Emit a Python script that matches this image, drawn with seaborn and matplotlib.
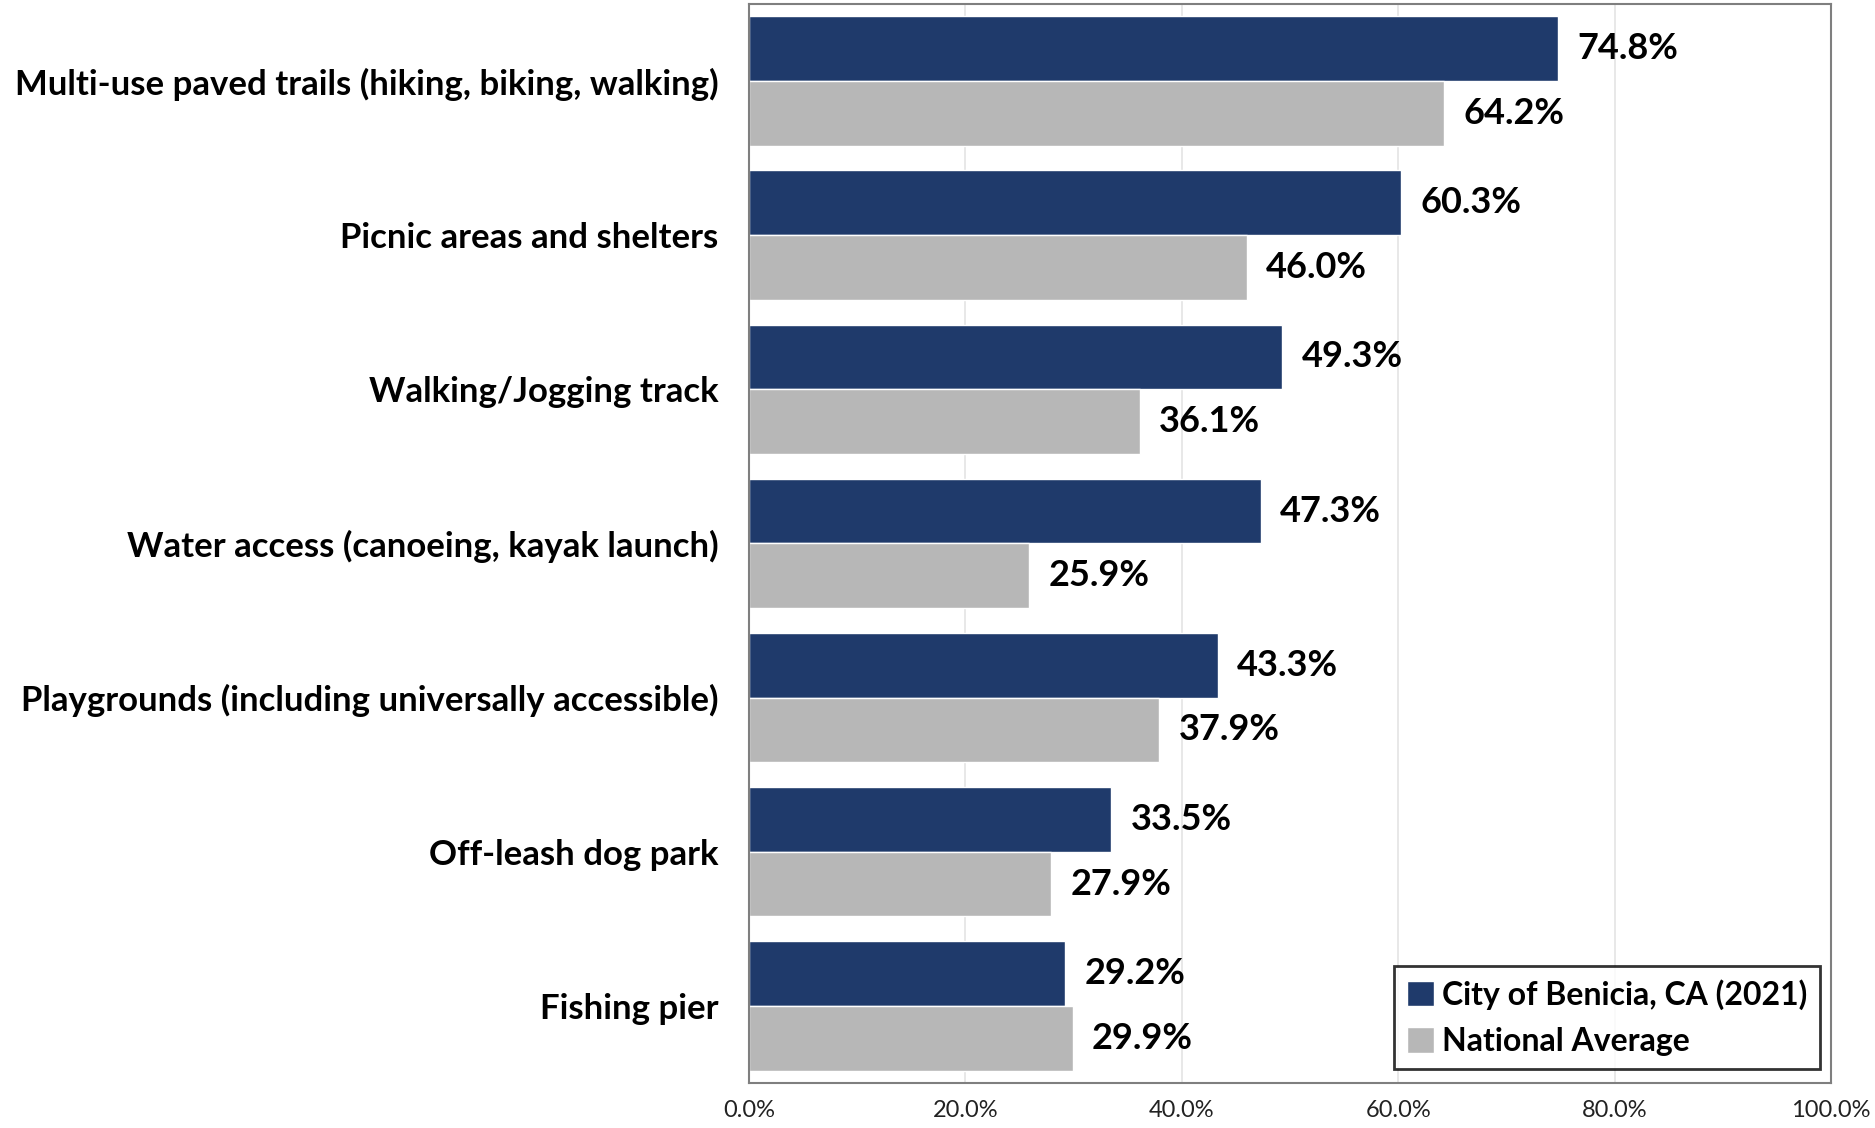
import pandas as pd
import numpy as np
import matplotlib.pyplot as plt
import seaborn as sns

# Datos
categorias = [
    "Multi-use paved trails (hiking, biking, walking)",
    "Picnic areas and shelters",
    "Walking/Jogging track",
    "Water access (canoeing, kayak launch)",
    "Playgrounds (including universally accessible)",
    "Off-leash dog park",
    "Fishing pier",
]
benicia = [74.8, 60.3, 49.3, 47.3, 43.3, 33.5, 29.2]
nacional = [64.2, 46.0, 36.1, 25.9, 37.9, 27.9, 29.9]
series = ["City of Benicia, CA (2021)", "National Average"]
ticks_x = [0, 20, 40, 60, 80, 100]

df = pd.DataFrame({
    "Categoria": categorias * 2,
    "Valor": benicia + nacional,
    "Serie": [series[0]] * len(categorias) + [series[1]] * len(categorias),
})

sns.set_style("white")
plt.rcParams['font.family'] = ['Lato', 'DejaVu Sans']
plt.rcParams['text.color'] = 'black'
plt.rcParams['xtick.color'] = 'black'
plt.rcParams['ytick.color'] = 'black'

fig = plt.figure(figsize=(18.75, 11.28), dpi=100)
ax = fig.add_axes([0.3995, 0.040, 0.577, 0.9565])

ax.grid(axis='x', color='#e4e4e4', linewidth=1.2, zorder=0)
ax.set_axisbelow(True)

sns.barplot(data=df, x="Valor", y="Categoria", hue="Serie", orient='h',
            palette=["#1f3a6b", "#b7b7b7"], width=0.84, saturation=1,
            ax=ax, zorder=2)

for cont in ax.containers:
    ax.bar_label(cont, fmt='%.1f%%', padding=14, fontsize=26,
                 fontweight='bold', color='black')

ax.set_xlim(0, 100)
ax.set_ylim(6.5, -0.5)
ax.set_xticks(ticks_x)
ax.set_xticklabels([f"{t:.1f}%" for t in ticks_x], fontsize=17, color='#222222')
ax.tick_params(axis='x', length=0, pad=12)
ax.tick_params(axis='y', length=0, pad=22, labelsize=25, labelcolor='black')
for lbl in ax.get_yticklabels():
    lbl.set_fontweight('bold')
ax.set_xlabel("")
ax.set_ylabel("")

for s in ax.spines.values():
    s.set_color('#7f7f7f')
    s.set_linewidth(1.5)

leg = ax.legend(loc='lower right', frameon=True, fancybox=False,
                handlelength=0.85, handleheight=0.85, handletextpad=0.25,
                borderpad=0.4, labelspacing=0.55, borderaxespad=0,
                prop={'weight': 'bold', 'size': 23},
                bbox_to_anchor=(0.99, 0.013))
leg.get_frame().set_edgecolor('black')
leg.get_frame().set_linewidth(2)
for t in leg.get_texts():
    t.set_color('black')

fig.savefig("out.png", dpi=100)
